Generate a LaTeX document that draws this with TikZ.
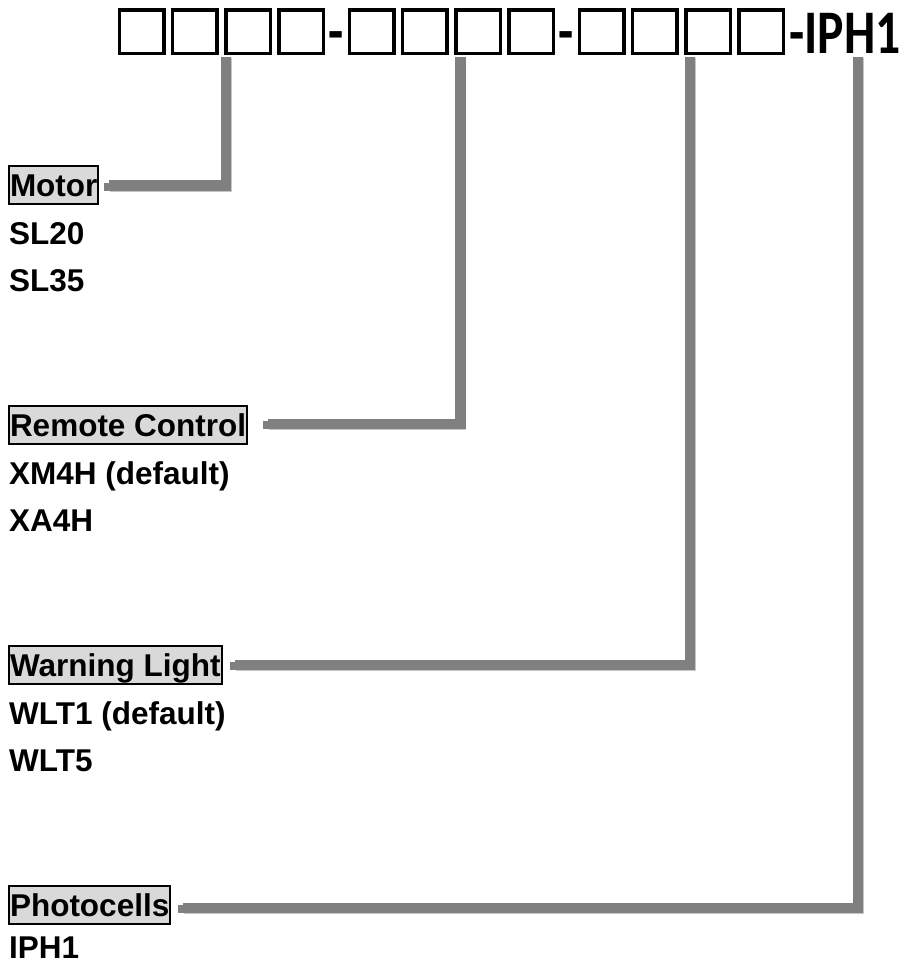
\documentclass[tikz,border=0pt]{standalone}
\usepackage{fontspec}
\newfontfamily\labelfont{Liberation Sans}
\newfontfamily\codefont{Carlito}
\usetikzlibrary{positioning}

\begin{document}
\begin{tikzpicture}[x=1pt, y=-1pt,
    slot/.style={draw, line width=3.5pt, minimum width=44.5pt, minimum height=43.5pt, inner sep=0pt},
    code/.style={inner sep=0pt, font=\codefont\bfseries\fontsize{62}{62}\selectfont},
    head/.style={draw, line width=2pt, fill=black!15, anchor=north west, inner xsep=1pt, inner ysep=1.5pt,
      text height=29pt, text depth=5.5pt, font=\labelfont\bfseries\fontsize{31.5}{36}\selectfont},
    item/.style={inner sep=0pt, anchor=base west, font=\labelfont\bfseries\fontsize{31.5}{36}\selectfont},
    wire/.style={line width=10.5pt, draw=black!50,
      preaction={draw=black!22, line width=10.5pt, transform canvas={shift={(0.8pt,-0.8pt)}}}},
    nub/.style={line width=8pt, draw=black!50}]
    \useasboundingbox (0,0) rectangle (909,972);
    % order code boxes
    \foreach \g in {0,1,2}
      \foreach \i in {1,...,4} {
        \pgfmathtruncatemacro\n{4*\g+\i}
        \node[slot] (b\n) at ({141.5+230*\g+53.3*(\i-1)},31.5) {};
      }
    \node[code, anchor=base] (d1) at (336.5,52) {\scalebox{0.8}[1]{-}};
    \node[code, anchor=base] (d2) at (566.5,52) {\scalebox{0.8}[1]{-}};
    \node[code, anchor=base west] (iph) at (789,53) {\scalebox{0.8}[1]{-IPH1}};
    \coordinate (t1) at (226.2,57);
    \coordinate (t2) at (460.4,57);
    \coordinate (t3) at (690,57);
    \coordinate (t4) at (858,57);
    % option groups
    \node[head] (motor) at (8,165) {Motor};
    \node[item] (sl20) at (9,244) {SL20};
    \node[item] (sl35) at (9,291.5) {SL35};
    \node[head] (remote) at (8,405) {Remote Control};
    \node[item] (xm4h) at (9,484) {XM4H (default)};
    \node[item] (xa4h) at (9,531.5) {XA4H};
    \node[head] (warn) at (8,645) {Warning Light};
    \node[item] (wlt1) at (9,724) {WLT1 (default)};
    \node[item] (wlt5) at (9,771.5) {WLT5};
    \node[head] (photo) at (8,885) {Photocells};
    \node[item] (iph1) at (9,958) {IPH1};
    % connectors
    \draw[nub] ([xshift=4.6pt,yshift=-2.1pt]motor.east) -- ++(9,0);
    \draw[wire] ([xshift=9.6pt,yshift=-0.75pt]motor.east) -| (t1);
    \draw[nub] ([xshift=14.7pt,yshift=-0.6pt]remote.east) -- ++(9,0);
    \draw[wire] ([xshift=19.7pt,yshift=0.75pt]remote.east) -| (t2);
    \draw[nub] ([xshift=7.3pt,yshift=-1.6pt]warn.east) -- ++(9,0);
    \draw[wire] ([xshift=12.3pt,yshift=-0.25pt]warn.east) -| (t3);
    \draw[nub] ([xshift=6.7pt,yshift=-4.6pt]photo.east) -- ++(9,0);
    \draw[wire] ([xshift=11.7pt,yshift=-3.25pt]photo.east) -| (t4);
\end{tikzpicture}
\end{document}
